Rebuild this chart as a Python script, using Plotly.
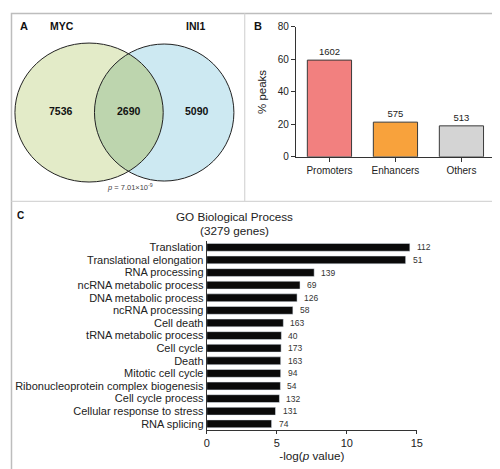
import numpy as np
import plotly.graph_objects as go

# ---- data ----
venn_sets = ["MYC", "INI1"]
venn_counts = [7536, 2690, 5090]  # MYC only, overlap, INI1 only
venn_p = "7.01×10<sup>-9</sup>"

peak_categories = ["Promoters", "Enhancers", "Others"]
peak_counts = [1602, 575, 513]
peak_pct = [59.6, 21.4, 19.1]
peak_colors = ["#f2807f", "#f8a23c", "#d4d4d4"]

go_terms = ["Translation", "Translational elongation", "RNA processing",
            "ncRNA metabolic process", "DNA metabolic process", "ncRNA processing",
            "Cell death", "tRNA metabolic process", "Cell cycle", "Death",
            "Mitotic cell cycle", "Ribonucleoprotein complex biogenesis",
            "Cell cycle process", "Cellular response to stress", "RNA splicing"]
go_logp = [14.5, 14.2, 7.67, 6.66, 6.45, 6.15, 5.47, 5.33, 5.31, 5.28,
           5.28, 5.26, 5.19, 4.91, 4.63]
go_genes = [112, 51, 139, 69, 126, 58, 163, 40, 173, 163, 94, 54, 132, 131, 74]

W, H = 500, 469
FONT = "Liberation Sans, Arial, sans-serif"

def px(x):
    return x / W

def py(y):
    return 1 - y / H

fig = go.Figure()

# ---- Panel A: Venn (axes in pixel units) ----
L = dict(cx=79.5, cy=101.7, rx=75.5, ry=71)
R = dict(cx=156, cy=101.7, rx=71, ry=70)

def inside(e, x, y):
    return ((x - e["cx"]) / e["rx"]) ** 2 + ((y - e["cy"]) / e["ry"]) ** 2 <= 1

t = np.linspace(-np.pi, np.pi, 1441)
lx, ly = L["cx"] + L["rx"] * np.cos(t), L["cy"] + L["ry"] * np.sin(t)
m = inside(R, lx, ly)
arc1 = list(zip(lx[m], ly[m]))
t2 = np.linspace(0, 2 * np.pi, 1441)
rx_, ry_ = R["cx"] + R["rx"] * np.cos(t2), R["cy"] + R["ry"] * np.sin(t2)
m2 = inside(L, rx_, ry_)
arc2 = list(zip(rx_[m2], ry_[m2]))
pts = arc1 + arc2
lens = "M " + " L ".join(f"{a:.2f},{b:.2f}" for a, b in pts) + " Z"

shapes = []
shapes.append(dict(type="circle", xref="x", yref="y",
                   x0=L["cx"] - L["rx"], x1=L["cx"] + L["rx"],
                   y0=L["cy"] - L["ry"], y1=L["cy"] + L["ry"],
                   fillcolor="#e3ebc8", line=dict(width=0), layer="below"))
shapes.append(dict(type="circle", xref="x", yref="y",
                   x0=R["cx"] - R["rx"], x1=R["cx"] + R["rx"],
                   y0=R["cy"] - R["ry"], y1=R["cy"] + R["ry"],
                   fillcolor="#cde9f2", line=dict(width=0), layer="below"))
shapes.append(dict(type="path", xref="x", yref="y", path=lens,
                   fillcolor="#bdd5ae", line=dict(width=0), layer="below"))
for e in (L, R):
    shapes.append(dict(type="circle", xref="x", yref="y",
                       x0=e["cx"] - e["rx"], x1=e["cx"] + e["rx"],
                       y0=e["cy"] - e["ry"], y1=e["cy"] + e["ry"],
                       line=dict(color="#222222", width=1)))

# panel borders / dividers
grey = "#d6d6d6"
shapes += [
    dict(type="rect", xref="paper", yref="paper", x0=px(0.5), x1=px(498.5),
         y0=py(467.5), y1=py(0.5), line=dict(color="#bdbdbd", width=1.5)),
    dict(type="line", xref="paper", yref="paper", x0=px(238), x1=px(238),
         y0=py(192), y1=py(0.5), line=dict(color=grey, width=1.2)),
    dict(type="line", xref="paper", yref="paper", x0=px(0.5), x1=px(498.5),
         y0=py(192.5), y1=py(192.5), line=dict(color=grey, width=1.2)),
]

fig.add_trace(go.Scatter(x=[0], y=[0], mode="markers", marker=dict(opacity=0),
                         hoverinfo="skip", showlegend=False, xaxis="x", yaxis="y"))

# ---- Panel B: bars ----
fig.add_trace(go.Bar(
    x=peak_categories, y=peak_pct, xaxis="x2", yaxis="y2",
    marker=dict(color=peak_colors, line=dict(color="#3a3a3a", width=1)),
    width=0.67, text=[str(c) for c in peak_counts], textposition="outside",
    textfont=dict(size=9.5, color="#222"), cliponaxis=False, showlegend=False))

# ---- Panel C: GO bars ----
fig.add_trace(go.Bar(
    y=go_terms, x=go_logp, orientation="h", xaxis="x3", yaxis="y3",
    marker=dict(color="#0a0a0a"), width=0.62, showlegend=False))

ann = []
def A(x, y, text, size=10, bold=False, color="#111", xanchor="center", **kw):
    if bold:
        text = f"<b>{text}</b>"
    ann.append(dict(x=px(x), y=py(y), xref="paper", yref="paper", text=text,
                    showarrow=False, font=dict(size=size, color=color, family=FONT),
                    xanchor=xanchor, yanchor="middle", **kw))

A(13, 13, "A", 11, True)
A(52, 13, venn_sets[0], 10.5, True)
A(188, 13, venn_sets[1], 10.5, True)
A(51, 100, str(venn_counts[0]), 10.5, True)
A(120, 100, str(venn_counts[1]), 10.5, True)
A(189, 100, str(venn_counts[2]), 10.5, True)
A(121, 178, f"<i>p</i> = {venn_p}", 7.5, color="#444")
A(252, 13, "B", 11, True)
A(10, 207, "C", 10, True)
A(228, 208, "GO Biological Process", 11.7, color="#222")
A(228, 222, "(3279 genes)", 11.7, color="#222")

for term, v, g in zip(go_terms, go_logp, go_genes):
    ann.append(dict(x=v, y=term, xref="x3", yref="y3", text=str(g), showarrow=False,
                    xanchor="left", xshift=5, yanchor="middle",
                    font=dict(size=8.5, color="#333", family=FONT)))

axis_common = dict(showline=True, linecolor="#333", linewidth=1, ticks="outside",
                   ticklen=4, tickcolor="#333", showgrid=False, zeroline=False,
                   tickfont=dict(size=10, color="#222", family=FONT))

fig.update_layout(
    width=W, height=H, margin=dict(l=0, r=0, t=0, b=0),
    paper_bgcolor="white", plot_bgcolor="rgba(0,0,0,0)",
    font=dict(family=FONT, color="#222"),
    shapes=shapes, annotations=ann, bargap=0.3,
    xaxis=dict(domain=[0, px(238)], range=[0, 238], visible=False, fixedrange=True),
    yaxis=dict(domain=[py(192), 1], range=[192, 0], visible=False, fixedrange=True),
    xaxis2=dict(domain=[px(290), px(497)], range=[-0.51, 2.57], anchor="y2",
                **axis_common),
    yaxis2=dict(domain=[py(147), py(14.3)], range=[0, 80], anchor="x2",
                tickvals=[0, 20, 40, 60, 80],
                title=dict(text="% peaks", font=dict(size=11.5, family=FONT), standoff=8),
                **axis_common),
    xaxis3=dict(domain=[px(199.3), px(413.3)], range=[0, 15], anchor="y3",
                tickvals=[0, 5, 10, 15],
                title=dict(text="-log(<i>p</i> value)", font=dict(size=11.7, family=FONT),
                           standoff=2),
                **{**axis_common, "ticklen": 3,
                   "tickfont": dict(size=11, color="#222", family=FONT)}),
    yaxis3=dict(domain=[py(426.2), py(233)], range=[14.5, -0.5], anchor="x3",
                type="category", categoryorder="array", categoryarray=go_terms,
                tickmode="array", tickvals=go_terms, ticktext=go_terms,
                **{**axis_common, "ticks": "", "tickfont": dict(size=11, color="#222", family=FONT)}),
)

fig.write_html("out.html")
